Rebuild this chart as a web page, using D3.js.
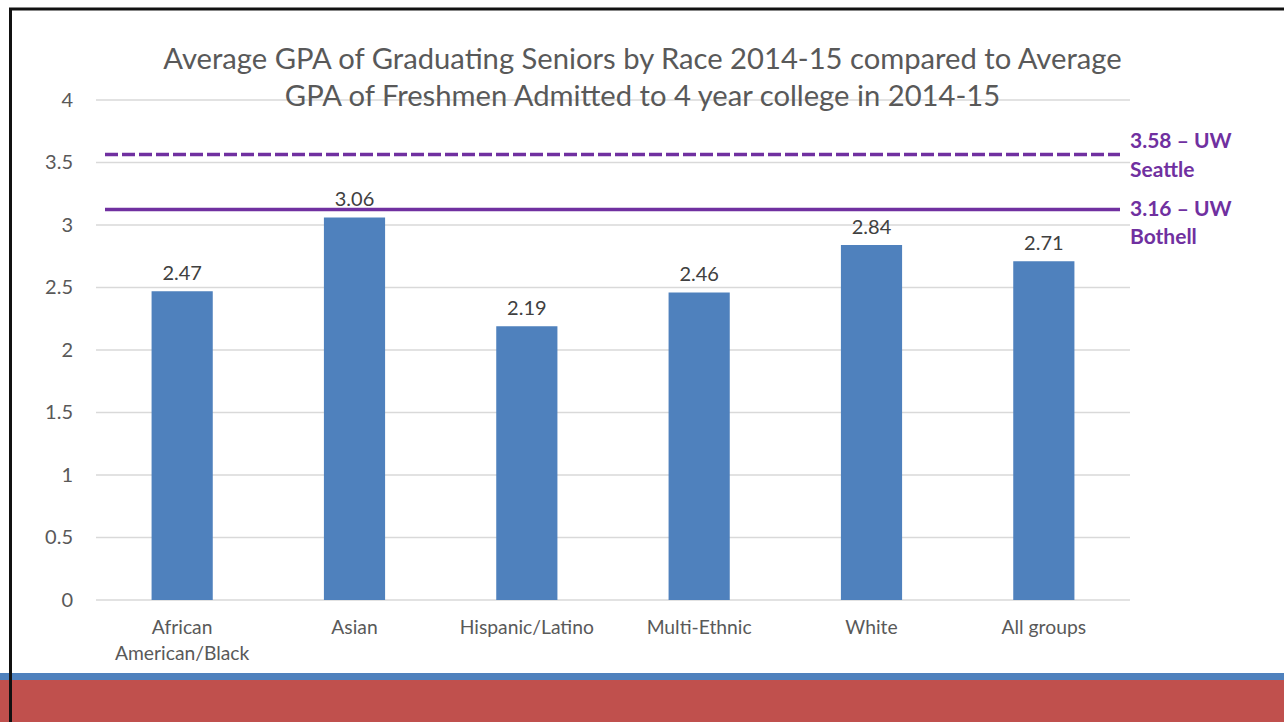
<!DOCTYPE html>
<html><head><meta charset="utf-8">
<script src="https://cdn.jsdelivr.net/npm/d3@7"></script>
<style>
html,body{margin:0;padding:0;background:#fff;}
svg{display:block;font-family:Lato,"Open Sans",sans-serif;}
</style></head>
<body>
<svg id="chart" width="1284" height="722"></svg>
<script>
const categories = ["African\nAmerican/Black","Asian","Hispanic/Latino","Multi-Ethnic","White","All groups"];
const gpaValues = [2.47, 3.06, 2.19, 2.46, 2.84, 2.71];
const valueLabels = ["2.47","3.06","2.19","2.46","2.84","2.71"];
const yTicks = [0, 0.5, 1, 1.5, 2, 2.5, 3, 3.5, 4];
const yTickLabels = ["0","0.5","1","1.5","2","2.5","3","3.5","4"];
const refLineValues = [3.565, 3.125];
const refLineDash = ["13,4", null];
const refLabels = [["3.58 – UW","Seattle"],["3.16 – UW","Bothell"]];
const titleLines = ["Average GPA of Graduating Seniors by Race 2014-15 compared to Average",
                    "GPA of Freshmen Admitted to 4 year college in 2014-15"];

const svg = d3.select("#chart");
const W = 1284, H = 722;
const plot = {left:96, right:1130, top:100, bottom:600};

// frame
svg.append("rect").attr("x",10.5).attr("y",9).attr("width",1400).attr("height",800)
  .attr("fill","none").attr("stroke","#111").attr("stroke-width",3);

const x = d3.scaleBand().domain(d3.range(categories.length))
  .range([plot.left, plot.right]).paddingInner(0.645).paddingOuter(0.3225);
const y = d3.scaleLinear().domain([0,4]).range([plot.bottom, plot.top]);

// gridlines
svg.append("g").selectAll("line").data(yTicks).join("line")
  .attr("x1",plot.left).attr("x2",plot.right)
  .attr("y1",d=>y(d)).attr("y2",d=>y(d))
  .attr("stroke","#d9d9d9").attr("stroke-width",1.3);

// y axis labels
const yAxis = d3.axisLeft(y).tickValues(yTicks).tickFormat((d,i)=>yTickLabels[i]).tickSize(0).tickPadding(0);
const ya = svg.append("g").attr("transform","translate(73,0)").call(yAxis);
ya.select(".domain").remove();
ya.selectAll("text").attr("font-size",20).attr("fill","#595959").attr("font-family","Lato, 'Open Sans', sans-serif");

// bars
svg.append("g").selectAll("rect").data(gpaValues).join("rect")
  .attr("x",(d,i)=>x(i)).attr("width",x.bandwidth())
  .attr("y",d=>y(d)).attr("height",d=>y(0)-y(d))
  .attr("fill","#4F81BD");

// data labels
svg.append("g").selectAll("text").data(gpaValues).join("text")
  .attr("x",(d,i)=>x(i)+x.bandwidth()/2).attr("y",d=>y(d)-11.5)
  .attr("text-anchor","middle").attr("font-size",20).attr("fill","#404040")
  .text((d,i)=>valueLabels[i]);

// category labels
const cg = svg.append("g");
categories.forEach((c,i)=>{
  const t = cg.append("text").attr("x",x(i)+x.bandwidth()/2).attr("y",634)
    .attr("text-anchor","middle").attr("font-size",19.3).attr("fill","#595959");
  c.split("\n").forEach((line,j)=>{
    t.append("tspan").attr("x",x(i)+x.bandwidth()/2).attr("dy",j===0?0:26).text(line);
  });
});

// reference lines
svg.append("g").selectAll("line").data(refLineValues).join("line")
  .attr("x1",105).attr("x2",1120)
  .attr("y1",d=>y(d)).attr("y2",d=>y(d))
  .attr("stroke","#7030A0").attr("stroke-width",3.5)
  .attr("stroke-dasharray",(d,i)=>refLineDash[i]);

const rl = svg.append("g");
const labelOffsets = [-6.3, 6.3];
refLabels.forEach((lines,i)=>{
  const base = y(refLineValues[i]) + labelOffsets[i];
  lines.forEach((l,j)=>{
    rl.append("text").attr("x",1130).attr("y",base + j*28.5)
      .attr("font-size",21).attr("font-weight","bold").attr("fill","#7030A0").text(l);
  });
});

// title
svg.append("g").selectAll("text").data(titleLines).join("text")
  .attr("x",642.5).attr("y",(d,i)=>69+i*37)
  .attr("text-anchor","middle").attr("font-size",29.2).attr("fill","#595959")
  .text(d=>d);

// bottom bands
svg.append("rect").attr("x",0).attr("y",673).attr("width",W).attr("height",7).attr("fill","#4F81BD");
svg.append("rect").attr("x",0).attr("y",680).attr("width",W).attr("height",42).attr("fill","#C0504D");
svg.append("rect").attr("x",9).attr("y",673).attr("width",3).attr("height",49).attr("fill","#111");
</script>
</body></html>
